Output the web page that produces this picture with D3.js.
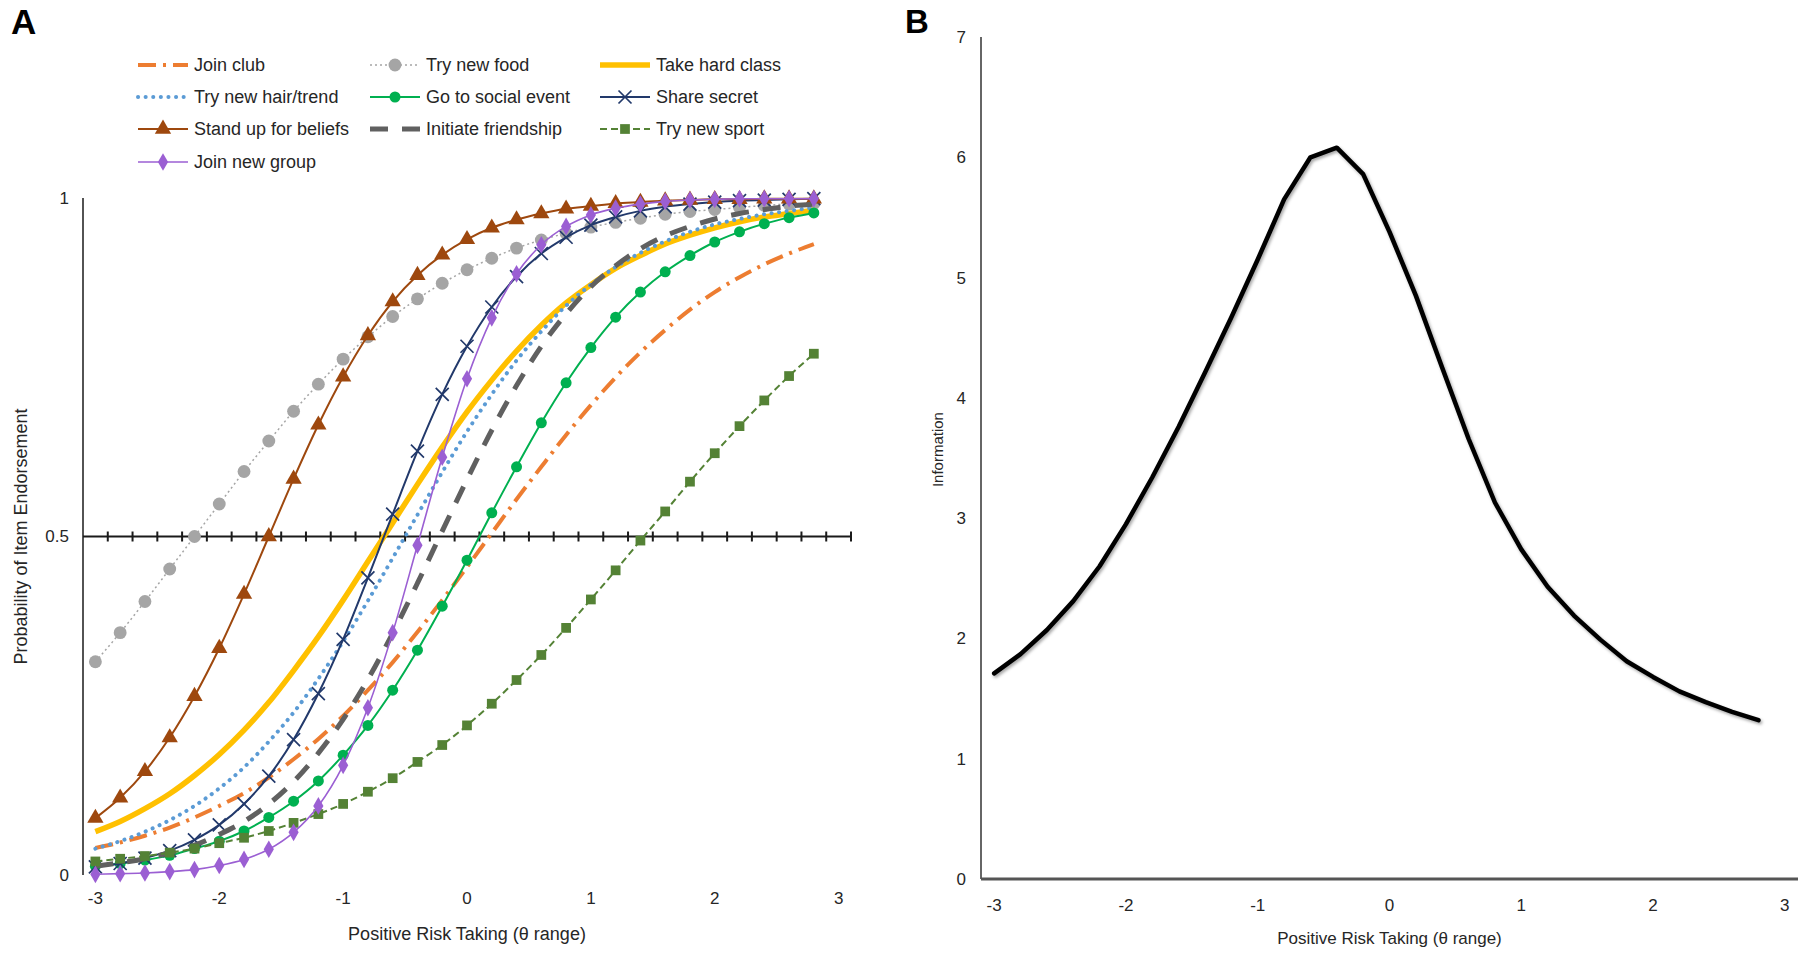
<!DOCTYPE html>
<html><head><meta charset="utf-8">
<script src="https://cdn.jsdelivr.net/npm/d3@7"></script>
<style>
html,body{margin:0;padding:0;background:#fff;}
text{font-family:"Liberation Sans",Arial,sans-serif;fill:#262626;}
</style></head>
<body>
<script>
// ---------- DATA ----------
const thetaCats = ["-3","-2.8","-2.6","-2.4","-2.2","-2","-1.8","-1.6","-1.4","-1.2","-1","-0.8","-0.6","-0.4","-0.2","0","0.2","0.4","0.6","0.8","1","1.2","1.4","1.6","1.8","2","2.2","2.4","2.6","2.8","3"];
const xTickLabels = ["-3","-2","-1","0","1","2","3"];
const yTickLabelsA = [0, 0.5, 1];
const yTickLabelsB = [0,1,2,3,4,5,6,7];

const joinClub      = [0.040,0.048,0.058,0.070,0.085,0.102,0.121,0.144,0.171,0.201,0.235,0.273,0.314,0.359,0.406,0.455,0.505,0.555,0.603,0.650,0.694,0.735,0.772,0.805,0.835,0.861,0.883,0.902,0.918,0.932];
const tryNewFood    = [0.315,0.358,0.404,0.452,0.500,0.548,0.596,0.641,0.685,0.725,0.762,0.795,0.825,0.851,0.874,0.894,0.911,0.926,0.938,0.948,0.957,0.964,0.970,0.976,0.980,0.983,0.986,0.989,0.991,0.992];
const takeHardClass = [0.064,0.079,0.098,0.120,0.147,0.178,0.214,0.255,0.302,0.352,0.406,0.463,0.520,0.577,0.632,0.684,0.731,0.774,0.812,0.845,0.872,0.896,0.915,0.932,0.945,0.956,0.965,0.972,0.977,0.982];
const tryNewHair    = [0.039,0.050,0.064,0.081,0.102,0.128,0.159,0.197,0.240,0.290,0.345,0.405,0.468,0.532,0.595,0.655,0.710,0.760,0.803,0.841,0.872,0.898,0.919,0.936,0.950,0.961,0.969,0.976,0.981,0.986];
const socialEvent   = [0.013,0.017,0.022,0.029,0.039,0.050,0.065,0.085,0.109,0.139,0.177,0.221,0.273,0.332,0.397,0.465,0.535,0.603,0.668,0.727,0.779,0.824,0.861,0.891,0.915,0.935,0.950,0.962,0.971,0.978];
const shareSecret   = [0.012,0.017,0.025,0.036,0.052,0.074,0.105,0.146,0.200,0.268,0.348,0.439,0.533,0.626,0.710,0.781,0.839,0.884,0.918,0.942,0.960,0.972,0.981,0.987,0.991,0.994,0.996,0.997,0.998,0.999];
const standUp       = [0.084,0.114,0.153,0.203,0.264,0.335,0.415,0.500,0.585,0.665,0.736,0.797,0.847,0.886,0.916,0.939,0.956,0.968,0.977,0.984,0.988,0.992,0.994,0.996,0.997,0.998,0.998,0.999,0.999,0.999];
const initiateFriend= [0.013,0.018,0.024,0.033,0.044,0.060,0.079,0.105,0.138,0.180,0.230,0.289,0.357,0.431,0.508,0.584,0.657,0.723,0.781,0.829,0.869,0.900,0.925,0.944,0.958,0.969,0.977,0.983,0.988,0.991];
const tryNewSport   = [0.020,0.024,0.028,0.033,0.039,0.047,0.055,0.065,0.077,0.090,0.105,0.123,0.143,0.167,0.192,0.221,0.253,0.288,0.325,0.365,0.407,0.450,0.494,0.537,0.581,0.623,0.663,0.701,0.737,0.770];
const joinNewGroup  = [0.001,0.002,0.003,0.005,0.008,0.014,0.023,0.038,0.063,0.102,0.162,0.247,0.358,0.487,0.617,0.733,0.823,0.888,0.931,0.958,0.975,0.985,0.991,0.995,0.997,0.998,0.999,0.999,0.999,0.999];

const information   = [1.71,1.87,2.07,2.31,2.60,2.95,3.34,3.76,4.21,4.67,5.15,5.65,6.00,6.08,5.86,5.38,4.85,4.25,3.66,3.13,2.74,2.43,2.19,1.99,1.81,1.68,1.56,1.47,1.39,1.32];

const seriesNames = ["Join club","Try new food","Take hard class","Try new hair/trend","Go to social event","Share secret","Stand up for beliefs","Initiate friendship","Try new sport","Join new group"];
const seriesValues = [joinClub,tryNewFood,takeHardClass,tryNewHair,socialEvent,shareSecret,standUp,initiateFriend,tryNewSport,joinNewGroup];

// ---------- STYLES ----------
const styles = [
  {color:"#ED7D31", width:4,   dash:"18,7,3,7", cap:"butt",  marker:null},
  {color:"#A5A5A5", width:1.5, dash:"2,3",      cap:"butt",  marker:"circle", msize:130},
  {color:"#FFC000", width:5.5, dash:null,       cap:"butt",  marker:null},
  {color:"#5B9BD5", width:4,   dash:"0.1,7.5",  cap:"round", marker:null},
  {color:"#00B050", width:2,   dash:null,       cap:"butt",  marker:"circle", msize:95},
  {color:"#22396B", width:2,   dash:null,       cap:"butt",  marker:"x", msize:6.5},
  {color:"#9E480E", width:2,   dash:null,       cap:"butt",  marker:"triangle", msize:115},
  {color:"#606060", width:5,   dash:"18,14",    cap:"butt",  marker:null},
  {color:"#548235", width:2,   dash:"7,4",      cap:"butt",  marker:"square", msize:95},
  {color:"#9B5FD3", width:1.6, dash:null,       cap:"butt",  marker:"diamond", msize:90}
];

const svg = d3.select("body").append("svg").attr("width",1800).attr("height",954)
  .style("display","block");
svg.append("rect").attr("width",1800).attr("height",954).attr("fill","#fff");

const defs = svg.append("defs");
const f = defs.append("filter").attr("id","shadow").attr("x","-10%").attr("y","-10%").attr("width","120%").attr("height","120%");
f.append("feDropShadow").attr("dx",1.5).attr("dy",2).attr("stdDeviation",1.6).attr("flood-color","#000").attr("flood-opacity",0.35);

function drawMarker(g, type, size, color, x, y) {
  if (!type) return;
  if (type === "x") {
    g.append("path").attr("d", `M${x-size},${y-size}L${x+size},${y+size}M${x-size},${y+size}L${x+size},${y-size}`)
      .attr("stroke", color).attr("stroke-width", 1.7).attr("fill","none");
    return;
  }
  const sym = {circle:d3.symbolCircle, triangle:d3.symbolTriangle, square:d3.symbolSquare, diamond:d3.symbolDiamond}[type];
  g.append("path").attr("d", d3.symbol().type(sym).size(size)())
    .attr("transform", `translate(${x},${y})`).attr("fill", color);
}

// ---------- PANEL A ----------
const xA = d3.scaleBand().domain(thetaCats).range([83, 851]).paddingInner(0).paddingOuter(0);
const cxA = c => xA(c) + xA.bandwidth()/2;
const yA = d3.scaleLinear().domain([0,1]).range([875,198]);
const gA = svg.append("g");

gA.append("line").attr("x1", xA.range()[0]).attr("x2", xA.range()[0])
  .attr("y1", yA(1)).attr("y2", yA(0)).attr("stroke","#1a1a1a").attr("stroke-width",1.5);
gA.append("line").attr("x1", xA.range()[0]).attr("x2", xA.range()[1])
  .attr("y1", yA(0.5)).attr("y2", yA(0.5)).attr("stroke","#1a1a1a").attr("stroke-width",2);
thetaCats.forEach(c => {
  const xr = xA(c) + xA.bandwidth();
  gA.append("line").attr("x1", xr).attr("x2", xr).attr("y1", yA(0.5)-5).attr("y2", yA(0.5)+5)
    .attr("stroke","#1a1a1a").attr("stroke-width",2);
});
yTickLabelsA.forEach(v => {
  gA.append("text").attr("x", xA.range()[0]-14).attr("y", yA(v)).attr("dy","0.35em")
    .attr("text-anchor","end").attr("font-size",17).text(v);
});
xTickLabels.forEach(l => {
  gA.append("text").attr("x", cxA(l)).attr("y", 898).attr("dy","0.35em")
    .attr("text-anchor","middle").attr("font-size",17).text(l);
});
gA.append("text").attr("x", (xA.range()[0]+xA.range()[1])/2).attr("y", 940)
  .attr("text-anchor","middle").attr("font-size",18).text("Positive Risk Taking (θ range)");
gA.append("text").attr("transform", `translate(27,${yA(0.5)}) rotate(-90)`)
  .attr("text-anchor","middle").attr("font-size",18).text("Probability of Item Endorsement");
gA.append("text").attr("x",11).attr("y",34).attr("font-size",35).attr("font-weight","bold")
  .style("fill","#000").text("A");

const lineA = d3.line().x((d,i) => cxA(thetaCats[i])).y(d => yA(d)).curve(d3.curveMonotoneX);
seriesValues.forEach((vals, si) => {
  const st = styles[si];
  const g = gA.append("g");
  g.append("path").datum(vals).attr("d", lineA).attr("fill","none")
    .attr("stroke", st.color).attr("stroke-width", st.width)
    .attr("stroke-dasharray", st.dash).attr("stroke-linecap", st.cap);
  vals.forEach((v,i) => drawMarker(g, st.marker, st.msize, st.color, cxA(thetaCats[i]), yA(v)));
});

// legend
const legCols = [138, 370, 600];
const legRows = [65, 97, 129, 162];
const legG = svg.append("g");
seriesNames.forEach((name, i) => {
  const st = styles[i];
  const x0 = legCols[i % 3], y0 = legRows[Math.floor(i/3)];
  const len = 50;
  legG.append("line").attr("x1", x0).attr("x2", x0+len).attr("y1", y0).attr("y2", y0)
    .attr("stroke", st.color).attr("stroke-width", st.width)
    .attr("stroke-dasharray", st.dash).attr("stroke-linecap", st.cap);
  drawMarker(legG, st.marker, st.msize, st.color, x0+len/2, y0);
  legG.append("text").attr("x", x0+len+6).attr("y", y0).attr("dy","0.35em")
    .attr("font-size",18).text(name);
});

// ---------- PANEL B ----------
const xB = d3.scaleBand().domain(thetaCats).range([981, 1798]).paddingInner(0).paddingOuter(0);
const cxB = c => xB(c) + xB.bandwidth()/2;
const yB = d3.scaleLinear().domain([0,7]).range([879,37]);
const gB = svg.append("g");

gB.append("line").attr("x1", xB.range()[0]).attr("x2", xB.range()[0])
  .attr("y1", yB(7)).attr("y2", yB(0)).attr("stroke","#333").attr("stroke-width",1.5);
gB.append("line").attr("x1", xB.range()[0]).attr("x2", xB.range()[1])
  .attr("y1", yB(0)).attr("y2", yB(0)).attr("stroke","#555").attr("stroke-width",3);

yTickLabelsB.forEach(v => {
  gB.append("text").attr("x", xB.range()[0]-15).attr("y", yB(v)).attr("dy","0.35em")
    .attr("text-anchor","end").attr("font-size",17).text(v);
});
xTickLabels.forEach(l => {
  gB.append("text").attr("x", cxB(l)).attr("y", 905).attr("dy","0.35em")
    .attr("text-anchor","middle").attr("font-size",17).text(l);
});
gB.append("text").attr("x", (xB.range()[0]+xB.range()[1])/2).attr("y", 944)
  .attr("text-anchor","middle").attr("font-size",17).text("Positive Risk Taking (θ range)");
gB.append("text").attr("transform", `translate(943,${yB(3.57)}) rotate(-90)`)
  .attr("text-anchor","middle").attr("font-size",15).text("Information");
gB.append("text").attr("x",905).attr("y",33).attr("font-size",33).attr("font-weight","bold")
  .style("fill","#000").text("B");

const lineB = d3.line().x((d,i) => cxB(thetaCats[i])).y(d => yB(d));
gB.append("path").datum(information).attr("d", lineB).attr("fill","none")
  .attr("stroke","#000").attr("stroke-width",4.5).attr("stroke-linejoin","round")
  .attr("stroke-linecap","round").attr("filter","url(#shadow)");
</script>
</body></html>
